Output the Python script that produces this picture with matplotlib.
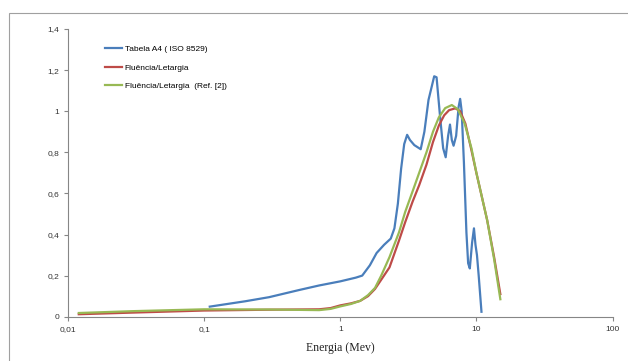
import matplotlib
matplotlib.use('Agg')
import matplotlib.pyplot as plt
from matplotlib.patches import Rectangle

# energy (MeV) and fluence/lethargy values
iso_e = [0.11, 0.2, 0.3, 0.5, 0.7, 1.0, 1.3, 1.45, 1.65, 1.85, 2.1, 2.35,
         2.5, 2.65, 2.8, 2.95, 3.1, 3.25, 3.5, 3.9, 4.15, 4.45, 4.7, 4.9,
         5.1, 5.4, 5.7, 5.95, 6.2, 6.4, 6.6, 6.8, 7.1, 7.4, 7.6, 7.8, 8.1,
         8.45, 8.7, 8.95, 9.3, 9.6, 9.85, 10.1, 10.4, 10.9]
iso_y = [0.049, 0.075, 0.095, 0.13, 0.152, 0.172, 0.19, 0.2, 0.25, 0.31,
         0.35, 0.38, 0.43, 0.55, 0.72, 0.84, 0.885, 0.86, 0.835, 0.815, 0.9,
         1.055, 1.12, 1.17, 1.165, 0.98, 0.82, 0.776, 0.88, 0.935, 0.86,
         0.832, 0.88, 1.02, 1.06, 1.0, 0.75, 0.41, 0.26, 0.235, 0.36, 0.43,
         0.35, 0.3, 0.2, 0.024]

flu_e = [0.012, 0.03, 0.1, 0.3, 0.7, 0.85, 1.0, 1.2, 1.4, 1.6, 1.8, 2.0,
         2.3, 2.7, 3.0, 3.4, 3.8, 4.3, 4.8, 5.3, 5.8, 6.3, 7.0, 7.6, 8.3,
         9.2, 10, 11, 12, 13.5, 15]
flu_y = [0.012, 0.02, 0.03, 0.034, 0.036, 0.042, 0.055, 0.065, 0.077, 0.1,
         0.135, 0.18, 0.24, 0.37, 0.46, 0.56, 0.64, 0.74, 0.85, 0.93, 0.98,
         1.005, 1.014, 1.0, 0.94, 0.81, 0.7, 0.58, 0.47, 0.29, 0.11]

ref_e = [0.012, 0.03, 0.1, 0.3, 0.7, 0.85, 1.0, 1.2, 1.4, 1.6, 1.8, 2.0,
         2.3, 2.7, 3.0, 3.4, 3.8, 4.3, 4.8, 5.3, 5.9, 6.6, 7.3, 8.2, 9.2,
         10, 11, 12, 13.5, 15]
ref_y = [0.018, 0.027, 0.036, 0.035, 0.032, 0.038, 0.05, 0.062, 0.077,
         0.105, 0.14, 0.2, 0.29, 0.41, 0.51, 0.61, 0.70, 0.8, 0.9, 0.97,
         1.015, 1.03, 1.01, 0.94, 0.82, 0.7, 0.58, 0.47, 0.28, 0.085]

labels = ['Tabela A4 ( ISO 8529)', 'Fluência/Letargia',
          'Fluência/Letargia  (Ref. [2])']
xticks = [0.01, 0.1, 1, 10, 100]
xtick_labels = ['0,01', '0,1', '1', '10', '100']
yticks = [0, 0.2, 0.4, 0.6, 0.8, 1.0, 1.2, 1.4]
ytick_labels = ['0', '0,2', '0,4', '0,6', '0,8', '1', '1,2', '1,4']

fig = plt.figure(figsize=(6.28, 3.61), dpi=100)
# chart area border (only top and left edges visible)
fig.patches.append(Rectangle((8.5 / 628, -0.1), 1.2, 1.1 - 12.5 / 361,
                             transform=fig.transFigure, fill=False,
                             edgecolor='#a0a0a0', linewidth=0.8))
ax = fig.add_axes([68 / 628, 1 - 316.7 / 361, (612.5 - 68) / 628,
                   (316.7 - 29) / 361])

ax.plot(iso_e, iso_y, color='#4a7ebb', lw=1.6, label=labels[0])
ax.plot(flu_e, flu_y, color='#be4b48', lw=1.6, label=labels[1])
ax.plot(ref_e, ref_y, color='#98b954', lw=1.6, label=labels[2])

ax.set_xscale('log')
ax.set_xlim(0.01, 100)
ax.set_ylim(0, 1.4)
ax.set_xticks(xticks)
ax.set_xticklabels(xtick_labels)
ax.minorticks_off()
ax.set_yticks(yticks)
ax.set_yticklabels(ytick_labels)

for s in ['top', 'right']:
    ax.spines[s].set_visible(False)
for s in ['left', 'bottom']:
    ax.spines[s].set_color('#868686')
    ax.spines[s].set_linewidth(0.8)
ax.tick_params(colors='#868686', labelcolor='#333333', labelsize=6,
               length=3, width=0.8)
for t in ax.get_xticklabels() + ax.get_yticklabels():
    t.set_family('Liberation Sans')

ax.set_xlabel('Energia (Mev)', family='Liberation Serif', fontsize=8.5,
              color='#222222', labelpad=7)

leg = ax.legend(loc='upper left', bbox_to_anchor=(0.055, 0.97), frameon=False,
                handlelength=2.0, handletextpad=0.3, labelspacing=1.3,
                prop={'family': 'Liberation Sans', 'size': 6})

fig.savefig('out.png', dpi=100)
